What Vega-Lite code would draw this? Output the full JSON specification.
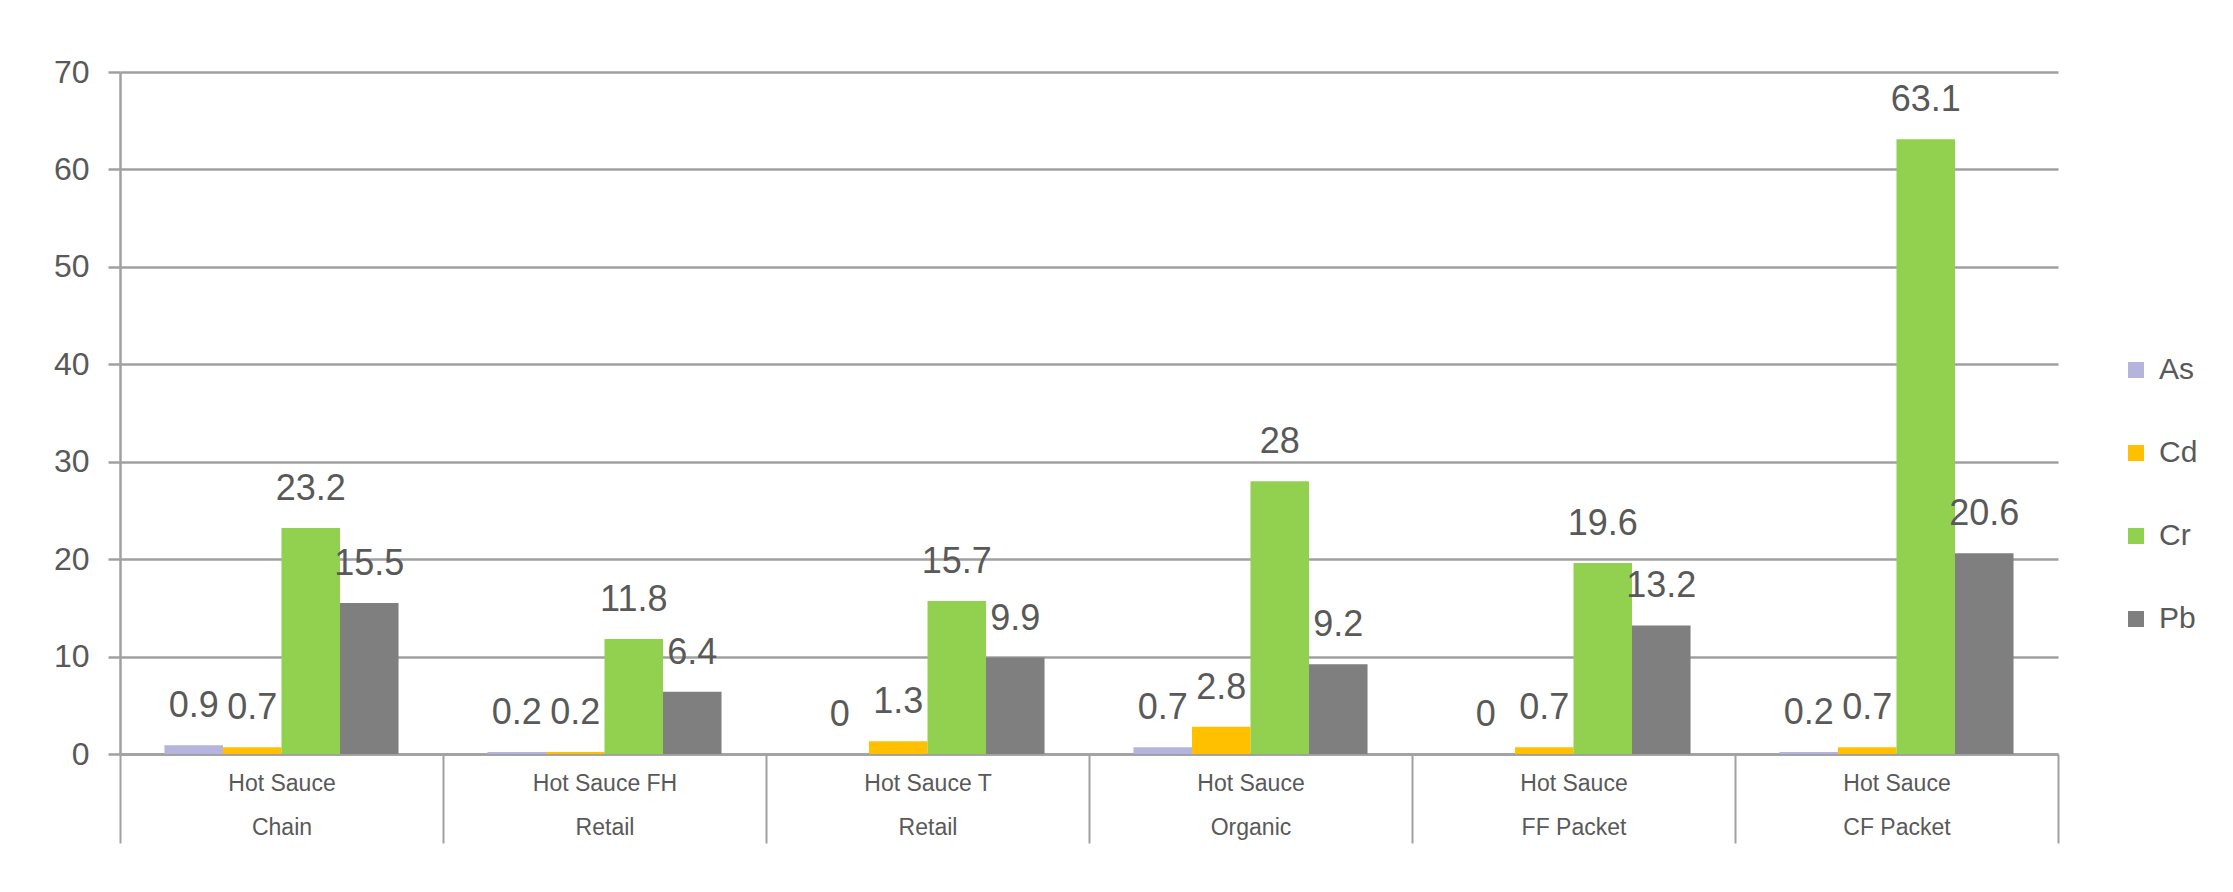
{
  "$schema": "https://vega.github.io/schema/vega-lite/v6.json",
  "width": 1938,
  "height": 682,
  "autosize": {"type": "none"},
  "padding": {"left": 120, "top": 72, "right": 175, "bottom": 138},
  "background": "white",
  "config": {"font": "Liberation Sans", "view": {"stroke": null}},
  "data": {
    "values": [
      {"product": "Hot Sauce|Chain", "metal": "As", "value": 0.9},
      {"product": "Hot Sauce|Chain", "metal": "Cd", "value": 0.7},
      {"product": "Hot Sauce|Chain", "metal": "Cr", "value": 23.2},
      {"product": "Hot Sauce|Chain", "metal": "Pb", "value": 15.5},
      {"product": "Hot Sauce FH|Retail", "metal": "As", "value": 0.2},
      {"product": "Hot Sauce FH|Retail", "metal": "Cd", "value": 0.2},
      {"product": "Hot Sauce FH|Retail", "metal": "Cr", "value": 11.8},
      {"product": "Hot Sauce FH|Retail", "metal": "Pb", "value": 6.4},
      {"product": "Hot Sauce T|Retail", "metal": "As", "value": 0},
      {"product": "Hot Sauce T|Retail", "metal": "Cd", "value": 1.3},
      {"product": "Hot Sauce T|Retail", "metal": "Cr", "value": 15.7},
      {"product": "Hot Sauce T|Retail", "metal": "Pb", "value": 9.9},
      {"product": "Hot Sauce|Organic", "metal": "As", "value": 0.7},
      {"product": "Hot Sauce|Organic", "metal": "Cd", "value": 2.8},
      {"product": "Hot Sauce|Organic", "metal": "Cr", "value": 28},
      {"product": "Hot Sauce|Organic", "metal": "Pb", "value": 9.2},
      {"product": "Hot Sauce|FF Packet", "metal": "As", "value": 0},
      {"product": "Hot Sauce|FF Packet", "metal": "Cd", "value": 0.7},
      {"product": "Hot Sauce|FF Packet", "metal": "Cr", "value": 19.6},
      {"product": "Hot Sauce|FF Packet", "metal": "Pb", "value": 13.2},
      {"product": "Hot Sauce|CF Packet", "metal": "As", "value": 0.2},
      {"product": "Hot Sauce|CF Packet", "metal": "Cd", "value": 0.7},
      {"product": "Hot Sauce|CF Packet", "metal": "Cr", "value": 63.1},
      {"product": "Hot Sauce|CF Packet", "metal": "Pb", "value": 20.6}
    ]
  },
  "encoding": {
    "x": {
      "field": "product",
      "type": "nominal",
      "sort": null,
      "scale": {"paddingInner": 0, "paddingOuter": 0},
      "axis": {
        "title": null,
        "labelAngle": 0,
        "labelExpr": "datum.value ? split(datum.value, '|') : ''",
        "labelFontSize": 23,
        "labelColor": "#595959",
        "labelLineHeight": 44,
        "labelBaseline": "top",
        "tickBand": "extent",
        "tickSize": 89,
        "tickColor": "#a0a0a0",
        "tickWidth": 2,
        "labelPadding": -71,
        "domainColor": "#a0a0a0",
        "domainWidth": 2.5
      }
    },
    "xOffset": {
      "field": "metal",
      "type": "nominal",
      "sort": ["As", "Cd", "Cr", "Pb"],
      "scale": {"paddingInner": 0, "paddingOuter": 0.76}
    },
    "y": {
      "field": "value",
      "type": "quantitative",
      "scale": {"domain": [0, 70], "nice": false},
      "axis": {
        "title": null,
        "values": [0, 10, 20, 30, 40, 50, 60, 70],
        "grid": true,
        "gridColor": "#a0a0a0",
        "gridWidth": 2.5,
        "domainColor": "#a0a0a0",
        "domainWidth": 2.5,
        "tickColor": "#a0a0a0",
        "tickWidth": 2.5,
        "tickSize": 12,
        "labelFontSize": 32,
        "labelColor": "#595959",
        "labelPadding": 19
      }
    }
  },
  "layer": [
    {
      "mark": {"type": "bar"},
      "encoding": {
        "color": {
          "field": "metal",
          "type": "nominal",
          "scale": {"domain": ["As", "Cd", "Cr", "Pb"], "range": ["#b4b4dc", "#ffc000", "#92d050", "#7f7f7f"]},
          "legend": {
            "title": null,
            "orient": "none",
            "legendX": 2001,
            "legendY": 283,
            "symbolType": "square",
            "symbolSize": 256,
            "symbolStrokeWidth": 0,
            "symbolOpacity": 1,
            "labelFontSize": 30,
            "labelColor": "#595959",
            "rowPadding": 53,
            "labelOffset": 8
          }
        }
      }
    },
    {
      "mark": {"type": "text", "dy": -28, "baseline": "alphabetic", "fontSize": 36, "color": "#595959"},
      "encoding": {"text": {"field": "value", "type": "quantitative"}}
    }
  ]
}
